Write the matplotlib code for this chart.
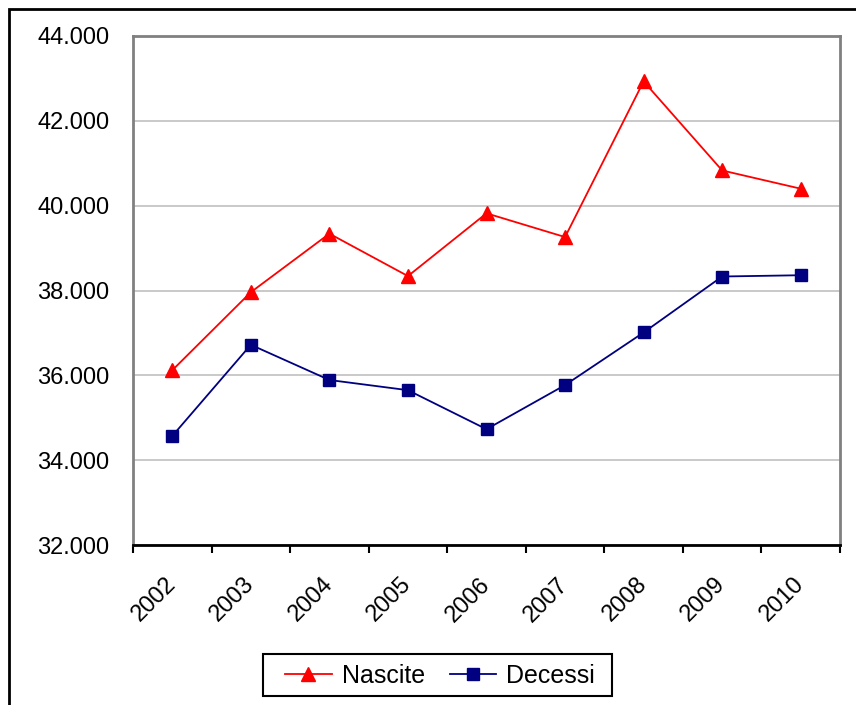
import matplotlib
matplotlib.use("Agg")
import matplotlib.pyplot as plt
from matplotlib.patches import Rectangle
from matplotlib.ticker import FuncFormatter, FixedLocator

years = ["2002", "2003", "2004", "2005", "2006", "2007", "2008", "2009", "2010"]
nascite = [36120, 37960, 39340, 38340, 39820, 39260, 42930, 40830, 40400]
decessi = [34570, 36720, 35890, 35650, 34730, 35770, 37010, 38330, 38360]
yticks = [32000, 34000, 36000, 38000, 40000, 42000, 44000]

plt.rcParams["font.family"] = ["Liberation Sans", "DejaVu Sans"]

fig = plt.figure(figsize=(8.56, 7.05), dpi=100)
ax = fig.add_axes([133 / 856, 1 - 545 / 705, (840 - 133) / 856, (545 - 36) / 705])

x = list(range(len(years)))
ax.plot(x, nascite, color="#ff0000", lw=1.3, marker="^", ms=10, label="Nascite")
ax.plot(x, decessi, color="#000080", lw=1.3, marker="s", ms=9, label="Decessi")

ax.set_xlim(-0.5, len(years) - 0.5)
ax.set_ylim(32000, 44000)
ax.set_yticks(yticks)
ax.yaxis.set_major_formatter(FuncFormatter(lambda v, p: f"{int(v):,}".replace(",", ".")))
ax.tick_params(axis="y", length=0, pad=17, labelsize=17)
ax.grid(axis="y", color="#c0c0c0", lw=1.2)
ax.set_axisbelow(True)

ax.set_xticks(x)
ax.set_xticklabels(years, rotation=45, ha="right", va="center", rotation_mode="anchor", fontsize=17)
ax.tick_params(axis="x", which="major", length=0, pad=26)
ax.xaxis.set_minor_locator(FixedLocator([i - 0.5 for i in range(len(years) + 1)]))
ax.tick_params(axis="x", which="minor", length=6, width=1.5, direction="out", color="black")

for s in ["left", "top", "right"]:
    ax.spines[s].set_color("#808080")
    ax.spines[s].set_linewidth(2)
ax.spines["bottom"].set_color("black")
ax.spines["bottom"].set_linewidth(2)

# outer chart border (right and bottom edges fall outside the image)
fig.patches.append(Rectangle((9 / 856, -0.1), 1.2, 1.1 - 9 / 705, transform=fig.transFigure,
                             fill=False, edgecolor="black", lw=2))

# legend box drawn by hand so its padding matches
fig.patches.append(Rectangle((263 / 856, 1 - 696 / 705), (612 - 263) / 856, 42 / 705,
                             transform=fig.transFigure, fill=False, edgecolor="black", lw=1.5))
fig.legend(loc="center", bbox_to_anchor=(440 / 856, 1 - 676 / 705), ncol=2,
           fontsize=18, frameon=False, handlelength=1.85, columnspacing=1.0,
           borderpad=0.3, handletextpad=0.4)

fig.savefig("out.png", dpi=100)
